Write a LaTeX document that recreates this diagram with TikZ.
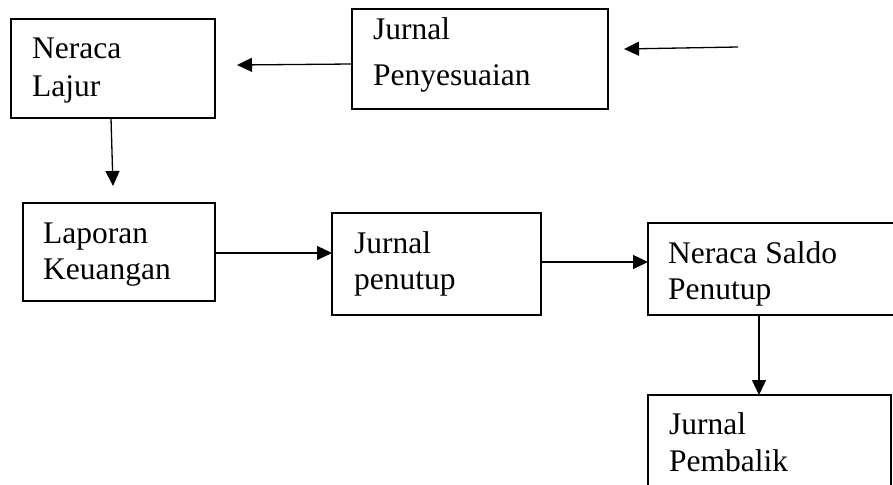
\documentclass[tikz,border=0pt]{standalone}
\usepackage{fontspec}
\setmainfont{Liberation Serif}
\usetikzlibrary{arrows.meta}
\tikzset{
  box/.style={draw=black, line width=2pt, inner sep=0pt, outer sep=0pt, anchor=north west},
  txt/.style={anchor=base west, inner sep=0pt, font=\fontsize{31.5}{38}\selectfont},
  conn/.style={line width=1.3pt, -{Triangle[length=15pt,width=14pt]}}
}
\begin{document}
\begin{tikzpicture}[x=1pt,y=-1pt]
\useasboundingbox (0,0) rectangle (893,484);
\clip (0,0) rectangle (893,484);
% boxes
\node[box, minimum width=204pt, minimum height=99pt] (nl) at (11,19) {};
\node[box, minimum width=256pt, minimum height=100pt] (jp) at (352,9) {};
\node[box, minimum width=192pt, minimum height=98pt] (lk) at (23,203) {};
\node[box, minimum width=209pt, minimum height=102pt] (jpen) at (332,213) {};
\node[box, minimum width=260pt, minimum height=92pt] (nsp) at (648,223) {};
\node[box, minimum width=243pt, minimum height=100pt] (jpb) at (648,395) {};
% texts
\node[txt] (nl1) at (32,59) {Neraca};
\node[txt] (nl2) at (32,97) {Lajur};
\node[txt] (jp1) at (373,40) {Jurnal};
\node[txt] (jp2) at (373,86) {Penyesuaian};
\node[txt] (lk1) at (43,243) {Laporan};
\node[txt] (lk2) at (43,279) {Keuangan};
\node[txt] (jpen1) at (354,253) {Jurnal};
\node[txt] (jpen2) at (354,289) {penutup};
\node[txt] (nsp1) at (668,263) {Neraca Saldo};
\node[txt] (nsp2) at (668,299) {Penutup};
\node[txt] (jpb1) at (669,434) {Jurnal};
\node[txt] (jpb2) at (669,471) {Pembalik};
% free ends
\coordinate (inS) at (738,47);
\coordinate (inE) at (624,49);
\coordinate (toNL) at (237,65);
\coordinate (nlDown) at (113,186);
% connectors
\draw[conn] (inS) -- (inE);
\draw[conn] (jp.west |- 0,64) -- (toNL);
\draw[conn] (nl.south -| 111,0) -- (nlDown);
\draw[conn] (lk.east |- 0,253) -- (jpen.west |- 0,253);
\draw[conn] (jpen.east |- 0,262) -- (nsp.west |- 0,262);
\draw[conn] (nsp.south -| 759,0) -- (jpb.north -| 759,0);
\end{tikzpicture}
\end{document}
